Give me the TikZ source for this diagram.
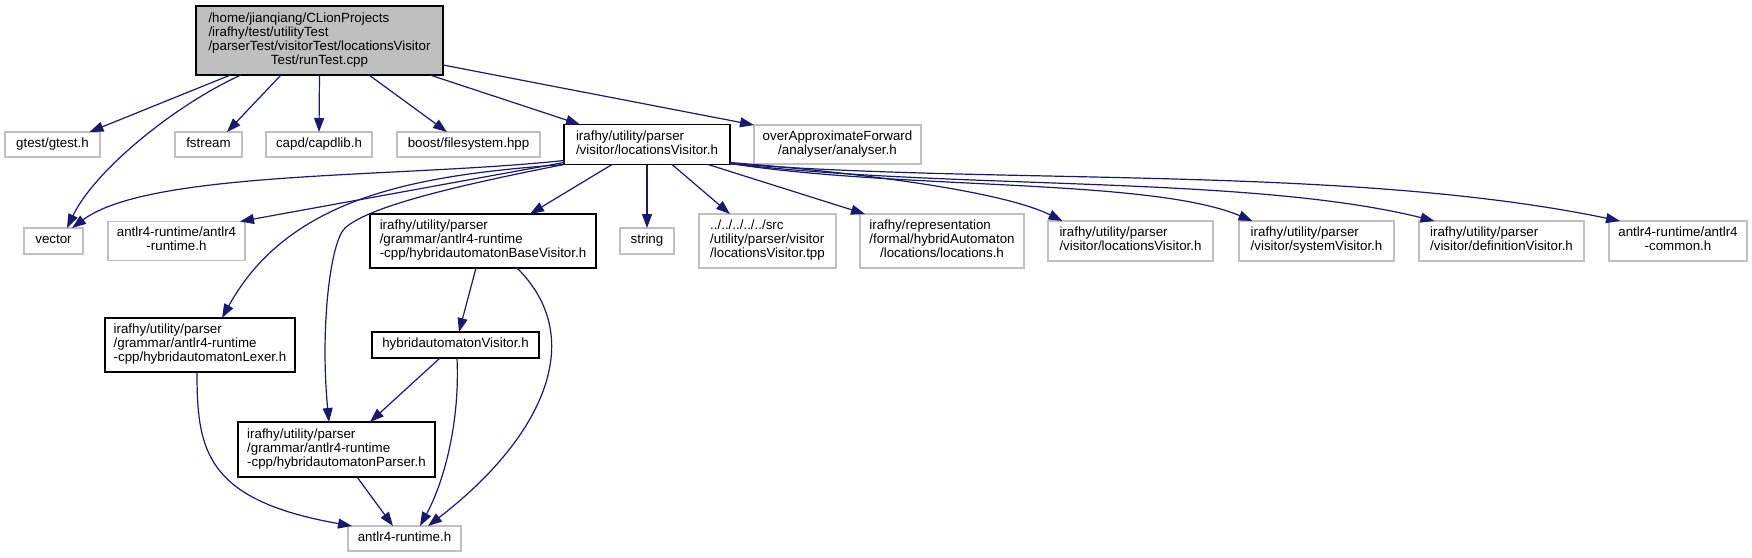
\documentclass[tikz,border=0pt]{standalone}
\usepackage{fontspec}
\setmainfont{Liberation Sans}
\usepackage{xcolor}
\usetikzlibrary{arrows.meta,positioning}
\definecolor{edgeblue}{HTML}{191970}
\definecolor{boxgrey}{HTML}{BFBFBF}
\newcommand{\fname}[2]{\begin{tabular}{@{}l@{}}#1\\\multicolumn{1}{@{}c@{}}{#2}\end{tabular}}

\begin{document}
\begin{tikzpicture}[
    x=1pt, y=-1pt,
    extfile/.style={draw=boxgrey, line width=1.2pt, fill=white, outer sep=0pt,
        inner xsep=2pt, inner ysep=0pt, font=\fontsize{13.33}{14}\selectfont,
        execute at begin node=\strut},
    docfile/.style={extfile, draw=black},
    rootfile/.style={docfile, fill=boxgrey},
    dims/.style 2 args={minimum width=#1pt, minimum height=#2pt},
    arrow/.style={-{Triangle[length=14pt,width=10pt]}, draw=edgeblue, line width=1.2pt}
]
    \useasboundingbox (0,0) rectangle (1752,557);

    \node[rootfile, dims={247}{69}] (run) at (319.5,40.5)
        {\fname{/home/jianqiang/CLionProjects\\/irafhy/test/utilityTest\\/parserTest/visitorTest/locationsVisitor}{Test/runTest.cpp}};

    \node[extfile, dims={95}{25}] (gtest) at (52.5,144.5) {gtest/gtest.h};
    \node[extfile, dims={67}{25}, right=75pt of gtest] (fstream) {fstream};
    \node[extfile, dims={106}{25}, right=24pt of fstream] (capd) {capd/capdlib.h};
    \node[extfile, dims={143}{25}, right=25pt of capd] (boost) {boost/filesystem.hpp};
    \node[docfile, dims={166}{40}, right=24pt of boost] (locvis) {\fname{irafhy/utility/parser}{/visitor/locationsVisitor.h}};
    \node[extfile, dims={167}{39}, right=24pt of locvis] (analyser) {\fname{overApproximateForward}{/analyser/analyser.h}};

    \node[extfile, dims={59}{26}] (vector) at (53.5,241) {vector};
    \node[extfile, dims={137}{39}, right=25pt of vector] (antlrrt) {\fname{antlr4-runtime/antlr4}{-runtime.h}};
    \node[docfile, dims={226}{54}, right=125pt of antlrrt] (basevis) {\fname{irafhy/utility/parser\\/grammar/antlr4-runtime}{-cpp/hybridautomatonBaseVisitor.h}};
    \node[extfile, dims={54}{26}, right=24pt of basevis] (string) {string};
    \node[extfile, dims={137}{54}, right=25pt of string] (tpp) {\fname{../../../../../src\\/utility/parser/visitor}{/locationsVisitor.tpp}};
    \node[extfile, dims={164}{54}, right=24pt of tpp] (locations) {\fname{irafhy/representation\\/formal/hybridAutomaton}{/locations/locations.h}};
    \node[extfile, dims={165}{40}, right=24pt of locations] (locvisinc) {\fname{irafhy/utility/parser}{/visitor/locationsVisitor.h}};
    \node[extfile, dims={155}{40}, right=26pt of locvisinc] (sysvis) {\fname{irafhy/utility/parser}{/visitor/systemVisitor.h}};
    \node[extfile, dims={165}{40}, right=25pt of sysvis] (defvis) {\fname{irafhy/utility/parser}{/visitor/definitionVisitor.h}};
    \node[extfile, dims={138}{40}, right=25pt of defvis] (common) {\fname{antlr4-runtime/antlr4}{-common.h}};

    \node[docfile, dims={190}{54}] (lexer) at (200,345) {\fname{irafhy/utility/parser\\/grammar/antlr4-runtime}{-cpp/hybridautomatonLexer.h}};
    \node[docfile, dims={167}{26}, right=77pt of lexer] (havis) {hybridautomatonVisitor.h};
    \node[docfile, dims={197}{55}] (parser) at (336.5,449.5) {\fname{irafhy/utility/parser\\/grammar/antlr4-runtime}{-cpp/hybridautomatonParser.h}};
    \node[extfile, dims={113}{25}] (runtime) at (404.5,538.5) {antlr4-runtime.h};

    \draw[arrow] ([xshift=-89pt]run.south) -- ([xshift=37pt]gtest.north);
    \draw[arrow] ([xshift=-78.5pt]run.south) .. controls (175,105) and (95,170) .. ([xshift=13.5pt]vector.north);
    \draw[arrow] ([xshift=-38.5pt]run.south) -- ([xshift=18.5pt]fstream.north);
    \draw[arrow] (run.south) -- (capd.north);
    \draw[arrow] ([xshift=49.5pt]run.south) -- ([xshift=-21.5pt]boost.north);
    \draw[arrow] ([xshift=110.5pt]run.south) -- ([xshift=-67pt]locvis.north);
    \draw[arrow] ([yshift=-24.5pt]run.east) -- (analyser.north west);

    \draw[arrow] ([yshift=4pt]locvis.south west) .. controls (400,178) and (150,170) .. ([xshift=18.5pt]vector.north);
    \draw[arrow] ([yshift=2pt]locvis.south west) -- ([xshift=-5pt]antlrrt.north east);
    \draw[arrow] (locvis.south west) .. controls (420,175) and (290,195) .. ([xshift=22pt]lexer.north);
    \draw[arrow] (locvis.south west) .. controls (470,183) and (370,205) .. (345,228)
        .. controls (330,242) and (320,330) .. ([xshift=-7.5pt]parser.north);
    \draw[arrow] ([xshift=-35pt]locvis.south) -- ([xshift=47pt]basevis.north);
    \draw[arrow] (locvis.south) -- (string.north);
    \draw[arrow] ([xshift=25pt]locvis.south) -- ([xshift=-37.5pt]tpp.north);
    \draw[arrow] ([xshift=61pt]locvis.south) -- ([xshift=-77pt]locations.north);
    \draw[arrow] ([yshift=2pt]locvis.south east) .. controls (850,172) and (1000,190) .. ([xshift=-68pt]locvisinc.north);
    \draw[arrow] ([yshift=1pt]locvis.south east) .. controls (900,190) and (1150,178) .. ([xshift=-64pt]sysvis.north);
    \draw[arrow] ([yshift=1pt]locvis.south east) .. controls (950,190) and (1250,175) .. ([xshift=-67pt]defvis.north);
    \draw[arrow] ([yshift=1pt]locvis.south east) .. controls (1000,185) and (1350,165) .. ([xshift=-58pt]common.north);

    \draw[arrow] ([xshift=-7pt]basevis.south) -- ([xshift=3.5pt]havis.north);
    \draw[arrow] ([xshift=34pt]basevis.south) .. controls (590,340) and (540,440) .. ([xshift=23.5pt]runtime.north);
    \draw[arrow] ([xshift=-15.5pt]havis.south) -- ([xshift=33.5pt]parser.north);
    \draw[arrow] ([xshift=1.5pt]havis.south) .. controls (460,420) and (445,480) .. ([xshift=15.5pt]runtime.north);
    \draw[arrow] ([xshift=-3pt]lexer.south) .. controls (197,450) and (205,500) .. ([xshift=4pt]runtime.north west);
    \draw[arrow] ([xshift=20.5pt]parser.south) -- ([xshift=-11.5pt]runtime.north);
\end{tikzpicture}
\end{document}
